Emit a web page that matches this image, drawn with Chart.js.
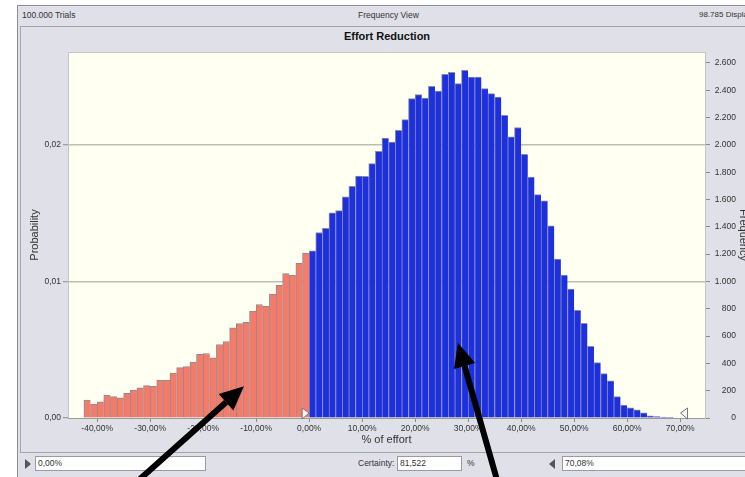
<!DOCTYPE html>
<html lang="en">
<head>
<meta charset="UTF-8" />
<title>Effort Reduction</title>
<script src="https://cdn.jsdelivr.net/npm/chart.js@4.4.0/dist/chart.umd.min.js"></script>
<style>
  body { margin: 0; width: 745px; height: 477px; overflow: hidden; background: #fff; font-family: "Liberation Sans", Arial, sans-serif; color: #333; }
  #page { position: relative; width: 790px; height: 477px; }
  .frame { position: absolute; left: 17px; top: 5px; width: 780px; height: 480px; background: #e0e0e8; border-left: 1px solid #8e8e96; border-top: 1px solid #8e8e96; }
  .hdr { position: absolute; top: 10px; font-size: 8.5px; white-space: nowrap; }
  .panel { position: absolute; left: 20px; top: 26px; width: 775px; height: 427px; border: 1px solid #a4a4ae; box-sizing: border-box; }
  .ttl { position: absolute; top: 30px; left: 0; width: 774px; text-align: center; font-weight: bold; font-size: 11px; color: #111; }
  .box { position: absolute; top: 456px; height: 15px; background: #fff; border: 1px solid #9a9aa6; box-sizing: border-box; font-size: 8.5px; line-height: 13px; padding-left: 2px; }
  .lbl { position: absolute; top: 458px; font-size: 8.5px; }
  .tri-r { position: absolute; left: 25px; top: 459px; width: 0; height: 0; border-top: 5px solid transparent; border-bottom: 5px solid transparent; border-left: 6px solid #555; }
  .tri-l { position: absolute; left: 549px; top: 459px; width: 0; height: 0; border-top: 5px solid transparent; border-bottom: 5px solid transparent; border-right: 6px solid #555; }
  #chart { position: absolute; left: 0; top: 0; z-index: 2; }
</style>
</head>
<body>
<div id="page">
  <div class="frame"></div>
  <div class="hdr" style="left:22px">100.000 Trials</div>
  <div class="hdr" style="left:358px">Frequency View</div>
  <div class="hdr" style="left:699px;font-size:8px">98.785 Displayed</div>
  <div class="panel"></div>
  <div class="ttl">Effort Reduction</div>

  <div class="tri-r"></div>
  <div class="box" style="left:35px;width:171px" id="lowVal"></div>
  <div class="lbl" style="left:358px">Certainty:</div>
  <div class="box" style="left:397px;width:65px" id="certVal"></div>
  <div class="lbl" style="left:467px">%</div>
  <div class="tri-l"></div>
  <div class="box" style="left:562px;width:230px" id="highVal"></div>

  <canvas id="chart" width="790" height="477"></canvas>
</div>
<script>
  // histogram bins (% of effort)
  const binStart = -42.5;
  const binWidth = 1.25;

  // frequencies below 0% (red) and above 0% (blue)
  const belowFreq = [131, 102, 119, 168, 156, 148, 180, 204, 221, 237,
    234, 278, 278, 329, 369, 376, 409, 467, 472, 440,
    538, 560, 661, 692, 700, 783, 831, 818, 908, 971,
    1057, 1044, 1132, 1207];
  const aboveFreq = [1224, 1358, 1388, 1502, 1519, 1619, 1697, 1772, 1770, 1863,
    1953, 2050, 2021, 2107, 2185, 2339, 2368, 2343, 2429, 2394,
    2516, 2531, 2448, 2546, 2497, 2497, 2412, 2375, 2350, 2216,
    2058, 2127, 1931, 1765, 1636, 1590, 1408, 1164, 1046, 944,
    788, 693, 525, 405, 325, 272, 156, 95, 74, 60,
    37, 15, 11, 7, 4];

  const xTicks = [-40, -30, -20, -10, 0, 10, 20, 30, 40, 50, 60, 70];
  const probTicks = [0, 0.01, 0.02];
  const freqTicks = [0, 200, 400, 600, 800, 1000, 1200, 1400, 1600, 1800, 2000, 2200, 2400, 2600];

  // certainty range
  const lowBound = 0;
  const highBound = 70.08;
  const certainty = "81,522";

  // annotation arrows [fromX, fromFreq, toX, toFreq]
  const arrows = [
    [-32.3, -460, -12.3, 232],
    [35.5, -460, 28.1, 549]
  ];

  document.getElementById("lowVal").textContent = lowBound.toFixed(2).replace(".", ",") + "%";
  document.getElementById("highVal").textContent = highBound.toFixed(2).replace(".", ",") + "%";
  document.getElementById("certVal").textContent = certainty;

  const belowData = belowFreq.map((f, i) => ({ x: binStart + (i + 0.5) * binWidth, y: f }));
  const aboveData = aboveFreq.map((f, i) => ({ x: binStart + (belowFreq.length + i + 0.5) * binWidth, y: f }));

  const tickFont = { family: "'Liberation Sans', Arial, sans-serif", size: 8.5 };
  const titleFont = { family: "'Liberation Sans', Arial, sans-serif", size: 11 };
  const dots = (v) => String(v).replace(/\B(?=(\d{3})+(?!\d))/g, ".");

  const overlay = {
    id: "overlay",
    beforeDraw(chart) {
      const { ctx, chartArea: a } = chart;
      ctx.save();
      ctx.fillStyle = "#fffff2";
      ctx.fillRect(a.left, a.top, a.width, a.height);
      ctx.strokeStyle = "#c6c6c6";
      ctx.lineWidth = 1;
      ctx.beginPath();
      ctx.moveTo(a.left, a.top + 0.5);
      ctx.lineTo(a.right, a.top + 0.5);
      ctx.stroke();
      ctx.restore();
    },
    afterDatasetsDraw(chart) {
      // certainty grabbers on the x axis
      const { ctx, chartArea: a } = chart;
      const xs = chart.scales.x;
      ctx.save();
      ctx.fillStyle = "#f4f4f4";
      ctx.strokeStyle = "#777";
      ctx.lineWidth = 1;
      [[lowBound, -1], [highBound, 1]].forEach(([v, dir]) => {
        const px = xs.getPixelForValue(v);
        ctx.beginPath();
        ctx.moveTo(px, a.bottom - 5);
        ctx.lineTo(px + dir * 7, a.bottom - 10);
        ctx.lineTo(px + dir * 7, a.bottom + 1);
        ctx.closePath();
        ctx.fill();
        ctx.stroke();
      });
      ctx.restore();
    },
    afterDraw(chart) {
      const { ctx } = chart;
      const xs = chart.scales.x;
      const ys = chart.scales.y1;
      ctx.save();
      ctx.fillStyle = "#000";
      ctx.strokeStyle = "#000";
      ctx.lineWidth = 6;
      arrows.forEach(([x1, y1, x2, y2]) => {
        const ax = xs.getPixelForValue(x1), ay = ys.getPixelForValue(y1);
        const bx = xs.getPixelForValue(x2), by = ys.getPixelForValue(y2);
        const ang = Math.atan2(by - ay, bx - ax);
        const head = 24, half = 11;
        const hx = bx - head * Math.cos(ang), hy = by - head * Math.sin(ang);
        ctx.beginPath();
        ctx.moveTo(ax, ay);
        ctx.lineTo(hx, hy);
        ctx.stroke();
        ctx.beginPath();
        ctx.moveTo(bx, by);
        ctx.lineTo(hx + half * Math.sin(ang), hy - half * Math.cos(ang));
        ctx.lineTo(hx - half * Math.sin(ang), hy + half * Math.cos(ang));
        ctx.closePath();
        ctx.fill();
      });
      ctx.restore();
    }
  };

  new Chart(document.getElementById("chart").getContext("2d"), {
    type: "bar",
    data: {
      datasets: [
        {
          label: "below",
          data: belowData,
          backgroundColor: "#f47b69",
          borderColor: "#8c8c90",
          borderWidth: { left: 1, top: 1, right: 0, bottom: 0 },
          grouped: false,
          barPercentage: 1,
          categoryPercentage: 1,
          yAxisID: "y1",
        },
        {
          label: "above",
          data: aboveData,
          backgroundColor: "#1c30e0",
          borderColor: "#8c8c9c",
          borderWidth: { left: 1, top: 1, right: 0, bottom: 0 },
          grouped: false,
          barPercentage: 1,
          categoryPercentage: 1,
          yAxisID: "y1",
        },
      ],
    },
    options: {
      responsive: false,
      animation: false,
      layout: { padding: { left: 20, top: 52, right: 54, bottom: 29 } },
      plugins: { legend: { display: false }, tooltip: { enabled: false } },
      scales: {
        x: {
          type: "linear",
          min: -45.5,
          max: 74.7,
          offset: false,
          afterBuildTicks: (s) => { s.ticks = xTicks.map((v) => ({ value: v })); },
          afterFit: (s) => { s.height = 30; },
          grid: { drawOnChartArea: false, offset: false, tickLength: 4, color: "#8a8a8a" },
          border: { color: "#9a9a9a" },
          ticks: {
            font: tickFont,
            color: "#333",
            padding: 2,
            maxRotation: 0,
            autoSkip: false,
            callback: (v) => v.toFixed(2).replace(".", ",") + "%",
          },
          title: { display: true, text: "% of effort", font: titleFont, color: "#333", padding: { top: 0, bottom: 1 } },
        },
        y: {
          position: "left",
          min: 0,
          max: 0.0268,
          afterBuildTicks: (s) => { s.ticks = probTicks.map((v) => ({ value: v })); },
          afterFit: (s) => { s.width = 48; },
          grid: {
            color: (c) => (c.tick && c.tick.value === 0 ? "rgba(0,0,0,0)" : "#bdbdb0"),
            lineWidth: 1.5,
            tickColor: "#8a8a8a",
            tickWidth: 1,
            tickLength: 5,
          },
          border: { color: "#c4c4c4" },
          ticks: { font: tickFont, color: "#333", padding: 2, callback: (v) => v.toFixed(2).replace(".", ",") },
          title: { display: true, text: "Probability", font: titleFont, color: "#333", padding: { top: 8, bottom: 0 } },
        },
        y1: {
          position: "right",
          min: 0,
          max: 2680,
          afterBuildTicks: (s) => { s.ticks = freqTicks.map((v) => ({ value: v })); },
          afterFit: (s) => { s.width = 31; },
          grid: { drawOnChartArea: false, tickLength: 5, color: "#8a8a8a" },
          border: { color: "#c4c4c4" },
          ticks: { font: tickFont, color: "#333", padding: 3, crossAlign: "far", callback: (v) => dots(v) },
          title: { display: true, text: "Frequency", font: titleFont, color: "#333", padding: { top: -14, bottom: 0 } },
        },
      },
    },
    plugins: [overlay],
  });
</script>
</body>
</html>
